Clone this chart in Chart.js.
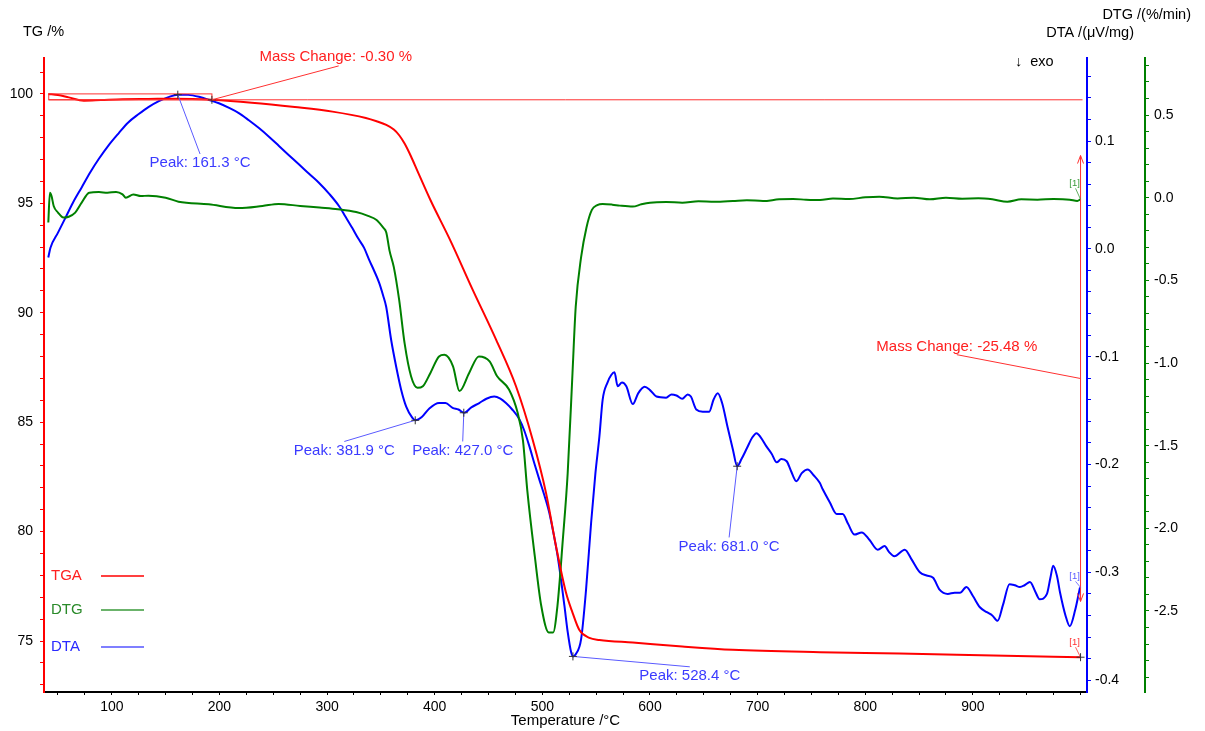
<!DOCTYPE html>
<html>
<head>
<meta charset="utf-8">
<title>TGA / DTG / DTA</title>
<script src="https://cdn.jsdelivr.net/npm/chart.js@4.4.1/dist/chart.umd.min.js"></script>
<style>
  html, body { margin: 0; padding: 0; background: #fff; }
  canvas { display: block; }
</style>
</head>
<body>
<canvas id="thermoChart" width="1205" height="731"></canvas>
<script>
// TGA (mass %)
const tgaTemp = [41, 50, 60, 74, 90, 110, 134, 160, 193, 230,
  270, 305, 336, 346, 355, 362, 367, 372, 378, 384,
  396, 415, 435, 457, 475.5, 491, 503.4, 512.7, 522, 528,
  534.4, 543.7, 553, 584, 630, 677, 758, 832, 919, 1000];
const tgaMass = [100.0, 99.95, 99.84, 99.69, 99.72, 99.76, 99.77, 99.78, 99.73, 99.6,
  99.4, 99.19, 98.9, 98.75, 98.58, 98.37, 98.11, 97.73, 97.14, 96.47,
  95.15, 93.25, 91.08, 88.77, 86.64, 84.2, 81.77, 79.33, 77.2, 76.3,
  75.5, 75.14, 75.05, 74.93, 74.75, 74.6, 74.49, 74.43, 74.34, 74.26];

// DTG (%/min)
const dtgTemp = [41, 42.5, 44, 46, 50, 55, 60, 66, 72, 79,
  88, 96, 104, 110, 113, 120, 127, 134, 150, 162,
  190, 218, 240, 255, 275, 293, 310, 327, 338, 346,
  352, 355, 358, 362, 367, 372, 378, 384, 389, 396,
  404, 409, 417, 423, 432, 441, 451, 458, 469, 477,
  482, 486, 493, 499, 506, 510, 514, 519, 523.5, 528,
  531, 536, 541, 546, 551, 556, 565, 572, 584, 592,
  600, 615, 630, 645, 660, 677, 690, 705, 720, 733,
  745, 758, 770, 785, 800, 813, 830, 845, 860, 875,
  890, 905, 918, 932, 945, 960, 975, 990, 997, 1000];
const dtgRate = [-0.15, 0.03, 0.01, -0.05, -0.09, -0.12, -0.115, -0.09, -0.03, 0.03,
  0.034, 0.03, 0.035, 0.02, 0.0, 0.02, 0.01, 0.012, 0.0, -0.024,
  -0.04, -0.063, -0.05, -0.038, -0.05, -0.06, -0.07, -0.087, -0.11, -0.135,
  -0.18, -0.21, -0.32, -0.42, -0.62, -0.88, -1.08, -1.15, -1.14, -1.06,
  -0.96, -0.95, -1.02, -1.17, -1.06, -0.96, -0.99, -1.08, -1.16, -1.3,
  -1.47, -1.77, -2.17, -2.47, -2.63, -2.63, -2.47, -2.07, -1.67, -1.06,
  -0.66, -0.36, -0.18, -0.074, -0.045, -0.038, -0.042, -0.048, -0.054, -0.04,
  -0.03, -0.026, -0.03, -0.022, -0.025, -0.02, -0.015, -0.02, -0.01, -0.008,
  -0.012, -0.014, -0.005, -0.008, 0.002, 0.006, -0.005, 0.0, -0.01, 0.0,
  -0.006, -0.004, -0.01, -0.024, -0.01, -0.012, -0.008, -0.012, -0.02, -0.01];

// DTA (µV/mg)
const dtaTemp = [41, 43, 50, 57, 64, 72, 80, 88, 97, 106.5,
  115, 125, 134, 143.7, 152, 161.3, 171, 181, 190, 199.5,
  209, 218, 227, 236.7, 246, 255.3, 264.5, 274, 283, 292.6,
  302, 311.2, 317, 323.3, 329, 334.4, 339.1, 344, 348.4, 352,
  354.9, 359.5, 364.2, 368.8, 373.5, 379.1, 382, 388, 395, 404,
  410, 416.6, 422, 427.4, 434, 441.4, 448, 455.3, 461, 466.2,
  472, 478.6, 483, 487.9, 492.6, 497.2, 502, 506.5, 510, 514.2,
  517.5, 520.5, 523.5, 526.7, 528.4, 531, 536, 540.6, 545.3, 549.3,
  553, 556, 560.5, 564, 567, 570, 574, 578, 584, 589,
  595, 600, 606, 615, 620, 624.6, 630, 635, 638, 643,
  649, 655, 659, 663, 667, 672, 677, 681, 685, 690,
  695, 699, 703, 708, 713, 717.7, 722, 727, 731, 736,
  741, 746.5, 752, 757.7, 760.5, 767, 773.5, 779, 784, 790,
  796.7, 804, 811.6, 818, 822, 827, 836.7, 843, 850.7, 857,
  863, 869, 876.7, 883, 888, 894, 900, 906.5, 913, 918,
  923, 928, 934, 939, 943.7, 948, 953, 958, 962, 968.8,
  972, 974.6, 978, 981, 986, 990, 995, 999.5];
const dtaSignal = [-0.008, 0.001, 0.015, 0.029, 0.043, 0.057, 0.071, 0.0835, 0.096, 0.1074,
  0.117, 0.125, 0.1315, 0.137, 0.1405, 0.143, 0.1428, 0.141, 0.1383, 0.135,
  0.1307, 0.1259, 0.1195, 0.112, 0.104, 0.0954, 0.0869, 0.0782, 0.0698, 0.0611,
  0.051, 0.0395, 0.03, 0.0195, 0.0095, 0.0009, -0.0102, -0.021, -0.0315, -0.043,
  -0.0537, -0.0843, -0.1093, -0.1306, -0.1463, -0.1565, -0.159, -0.156, -0.148, -0.143,
  -0.143, -0.1475, -0.149, -0.152, -0.147, -0.143, -0.139, -0.137, -0.139, -0.143,
  -0.149, -0.158, -0.168, -0.183, -0.199, -0.214, -0.229, -0.245, -0.262, -0.285,
  -0.308, -0.331, -0.355, -0.374, -0.378, -0.376, -0.362, -0.316, -0.254, -0.208,
  -0.174, -0.14, -0.124, -0.117, -0.1145, -0.1275, -0.124, -0.1275, -0.144, -0.134,
  -0.128, -0.131, -0.137, -0.138, -0.135, -0.136, -0.139, -0.135, -0.137, -0.149,
  -0.151, -0.151, -0.14, -0.134, -0.143, -0.165, -0.186, -0.2016, -0.195, -0.185,
  -0.175, -0.171, -0.175, -0.183, -0.19, -0.198, -0.195, -0.197, -0.206, -0.2155,
  -0.208, -0.2046, -0.21, -0.217, -0.223, -0.235, -0.246, -0.246, -0.255, -0.265,
  -0.263, -0.27, -0.279, -0.2757, -0.281, -0.285, -0.279, -0.288, -0.3, -0.303,
  -0.305, -0.316, -0.32, -0.319, -0.319, -0.3136, -0.322, -0.3324, -0.337, -0.34,
  -0.345, -0.33, -0.311, -0.312, -0.3136, -0.312, -0.309, -0.318, -0.325, -0.32,
  -0.305, -0.294, -0.303, -0.319, -0.34, -0.35, -0.335, -0.314];

// tick labels
const tempLabels = [100, 200, 300, 400, 500, 600, 700, 800, 900];
const tgLabels = [75, 80, 85, 90, 95, 100];
const dtaLabels = [-0.4, -0.3, -0.2, -0.1, 0.0, 0.1];
const dtgLabels = [-2.5, -2.0, -1.5, -1.0, -0.5, 0.0, 0.5];

// DTA peaks and where their labels sit (data units)
const peakTemps = [161.3, 381.9, 427.0, 528.4, 681.0];
const peakValues = [0.143, -0.159, -0.152, -0.378, -0.2016];
const peakLabelTemps = [182, 316, 426, 637, 673.5];
const peakLabelValues = [0.0796, -0.187, -0.187, -0.396, -0.276];

// mass change steps
const massStartTemp = 41.4;
const massBaseTemp = 193;
const massBase = 99.73;
const massTop = 100.0;
const massEndTemp = 1000;
const massEnd = 74.26;
const massLabels = ["Mass Change: -0.30 %", "Mass Change: -25.48 %"];
const massLabelTemps = [308, 885];
const massLabelValues = [101.69, 88.45];

const RED = "#ff0000";
const GREEN = "#008000";
const BLUE = "#0000ff";
const FONT = '"Liberation Sans", Arial, sans-serif';

Chart.defaults.font.family = FONT;

const toPoints = (xs, ys) => xs.map((x, i) => ({ x, y: ys[i] }));
const isLabel = (list, v) => list.some((t) => Math.abs(t - v) < 1e-6);

function tickGrid(color, len) {
  return { display: true, drawOnChartArea: false, drawTicks: true, tickLength: len, tickColor: color, tickWidth: 1 };
}

function line(ctx, x1, y1, x2, y2, color, w) {
  ctx.strokeStyle = color;
  ctx.lineWidth = w;
  ctx.beginPath();
  ctx.moveTo(x1, y1);
  ctx.lineTo(x2, y2);
  ctx.stroke();
}

function text(ctx, str, x, y, color, size, align) {
  ctx.fillStyle = color;
  ctx.font = `${size}px ${FONT}`;
  ctx.textAlign = align || "center";
  ctx.textBaseline = "middle";
  ctx.fillText(str, x, y);
}

function cross(ctx, px, py) {
  line(ctx, px - 4, py, px + 4, py, "#333", 1);
  line(ctx, px, py - 4, px, py + 4, "#333", 1);
}

function arrowHead(ctx, px, py, dir, color) {
  // dir -1 points up, 1 points down
  line(ctx, px, py, px - 3, py - dir * 8, color, 1);
  line(ctx, px, py, px + 3, py - dir * 8, color, 1);
}

const annotations = {
  id: "annotations",
  afterDraw(chart) {
    const { ctx, chartArea } = chart;
    const { x, y: tg, yDta: dta, yDtg: dtg } = chart.scales;
    ctx.save();

    // axis titles
    text(ctx, "TG /%", 23, 32, "#000", 14.5, "left");
    text(ctx, "DTG /(%/min)", 1191, 15, "#000", 14.5, "right");
    text(ctx, "DTA /(\u03bcV/mg)", 1134, 33, "#000", 14.5, "right");
    text(ctx, "\u2193  exo", 1015, 62, "#000", 14.5, "left");
    text(ctx, "Temperature /\u00b0C", (chartArea.left + chartArea.right) / 2, 721, "#000", 15);

    // legend
    const legend = [["TGA", "#ff2020", RED], ["DTG", "#2a8a2a", "#3a9a3a"], ["DTA", "#2a2aff", "#5555ff"]];
    const legendY = [576, 610, 647];
    legend.forEach(([name, tc, lc], i) => {
      text(ctx, name, chartArea.left + 7, legendY[i], tc, 15, "left");
      line(ctx, chartArea.left + 57, legendY[i], chartArea.left + 100, legendY[i], lc, 1.5);
    });

    // mass change: baseline, box, step arrow
    const xs = x.getPixelForValue(massStartTemp);
    const xb = x.getPixelForValue(massBaseTemp);
    const xe = x.getPixelForValue(massEndTemp);
    const yb = tg.getPixelForValue(massBase);
    line(ctx, xs, yb, xe + 2, yb, "#ff3030", 1);
    ctx.strokeStyle = "#ff3030";
    ctx.lineWidth = 1;
    ctx.strokeRect(xs, tg.getPixelForValue(massTop), xb - xs, yb - tg.getPixelForValue(massTop));
    cross(ctx, xb, yb);
    const lx0 = x.getPixelForValue(massLabelTemps[0]);
    const ly0 = tg.getPixelForValue(massLabelValues[0]);
    line(ctx, xb, yb, lx0 + 3, ly0 + 9, "#ff3030", 1);
    text(ctx, massLabels[0], lx0, ly0, "#ff2020", 15);

    const delta = massBase - massEnd;
    const yTop = tg.getPixelForValue(massBase - delta * 0.1);
    const yBot = tg.getPixelForValue(massEnd + delta * 0.1);
    line(ctx, xe, yTop, xe, yBot, "#ff3030", 1);
    arrowHead(ctx, xe, yTop, -1, "#ff3030");
    arrowHead(ctx, xe, yBot, 1, "#ff3030");
    const ymid = tg.getPixelForValue((massBase + massEnd) / 2);
    const lx1 = x.getPixelForValue(massLabelTemps[1]);
    const ly1 = tg.getPixelForValue(massLabelValues[1]);
    line(ctx, xe, ymid, lx1, ly1 + 8, "#ff3030", 1);
    text(ctx, massLabels[1], lx1, ly1, "#ff2020", 15);

    // DTA peaks
    peakTemps.forEach((t, i) => {
      const px = x.getPixelForValue(t);
      const py = dta.getPixelForValue(peakValues[i]);
      const tx = x.getPixelForValue(peakLabelTemps[i]);
      const ty = dta.getPixelForValue(peakLabelValues[i]);
      line(ctx, px, py, tx, ty - 9, "#5a5aff", 1);
      cross(ctx, px, py);
      text(ctx, `Peak: ${t.toFixed(1)} \u00b0C`, tx, ty, "#3a3aff", 15);
    });

    // end markers [1]
    const ends = [
      [tg.getPixelForValue(tgaMass[tgaMass.length - 1]), "#ff3030", -15],
      [dta.getPixelForValue(dtaSignal[dtaSignal.length - 1]), "#5a5aff", -11],
      [dtg.getPixelForValue(dtgRate[dtgRate.length - 1]), "#3a9a3a", -16],
    ];
    ends.forEach(([py, c, dy], i) => {
      line(ctx, xe - 5, py + dy + 5, xe, py, c, 0.8);
      text(ctx, "[1]", xe - 6, py + dy, c, 9.5);
      if (i === 0) cross(ctx, xe, py);
    });

    ctx.restore();
  },
};

const ctx = document.getElementById("thermoChart").getContext("2d");

new Chart(ctx, {
  type: "line",
  data: {
    datasets: [
      {
        label: "TGA",
        data: toPoints(tgaTemp, tgaMass),
        yAxisID: "y",
        borderColor: RED,
        borderWidth: 2,
        pointRadius: 0,
        cubicInterpolationMode: "monotone",
      },
      {
        label: "DTG",
        data: toPoints(dtgTemp, dtgRate),
        yAxisID: "yDtg",
        borderColor: GREEN,
        borderWidth: 2,
        pointRadius: 0,
        cubicInterpolationMode: "monotone",
      },
      {
        label: "DTA",
        data: toPoints(dtaTemp, dtaSignal),
        yAxisID: "yDta",
        borderColor: BLUE,
        borderWidth: 2,
        pointRadius: 0,
        cubicInterpolationMode: "monotone",
      },
    ],
  },
  options: {
    responsive: false,
    animation: false,
    devicePixelRatio: 1,
    layout: { padding: { top: 58, left: 0, right: 0, bottom: 0 } },
    plugins: {
      legend: { display: false },
      tooltip: { enabled: false },
    },
    scales: {
      x: {
        type: "linear",
        min: 37,
        max: 1006,
        afterFit: (s) => { s.height = 39; },
        border: { display: true, color: "#000", width: 2 },
        grid: tickGrid("#000", 3),
        ticks: {
          stepSize: 25,
          includeBounds: false,
          autoSkip: false,
          maxRotation: 0,
          padding: 4,
          color: "#000",
          font: { size: 14 },
          callback: (v) => (isLabel(tempLabels, v) ? String(v) : ""),
        },
      },
      y: {
        position: "left",
        min: 72.67,
        max: 101.64,
        afterFit: (s) => { s.width = 44; },
        border: { display: true, color: RED, width: 2 },
        grid: tickGrid(RED, 4),
        ticks: {
          stepSize: 1,
          includeBounds: false,
          autoSkip: false,
          padding: 7,
          color: "#000",
          font: { size: 14 },
          callback: (v) => (isLabel(tgLabels, v) ? String(v) : ""),
        },
      },
      yDta: {
        position: "right",
        weight: 0,
        min: -0.411,
        max: 0.177,
        afterFit: (s) => { s.width = 58; },
        border: { display: true, color: BLUE, width: 2 },
        grid: tickGrid(BLUE, 4),
        ticks: {
          stepSize: 0.02,
          includeBounds: false,
          autoSkip: false,
          padding: 4,
          color: "#000",
          font: { size: 14 },
          callback: (v) => (isLabel(dtaLabels, v) ? v.toFixed(1) : ""),
        },
      },
      yDtg: {
        position: "right",
        weight: 1,
        min: -2.99,
        max: 0.845,
        afterFit: (s) => { s.width = 60; },
        border: { display: true, color: GREEN, width: 2 },
        grid: tickGrid(GREEN, 4),
        ticks: {
          stepSize: 0.1,
          includeBounds: false,
          autoSkip: false,
          padding: 5,
          color: "#000",
          font: { size: 14 },
          callback: (v) => (isLabel(dtgLabels, v) ? v.toFixed(1) : ""),
        },
      },
    },
  },
  plugins: [annotations],
});
</script>
</body>
</html>
